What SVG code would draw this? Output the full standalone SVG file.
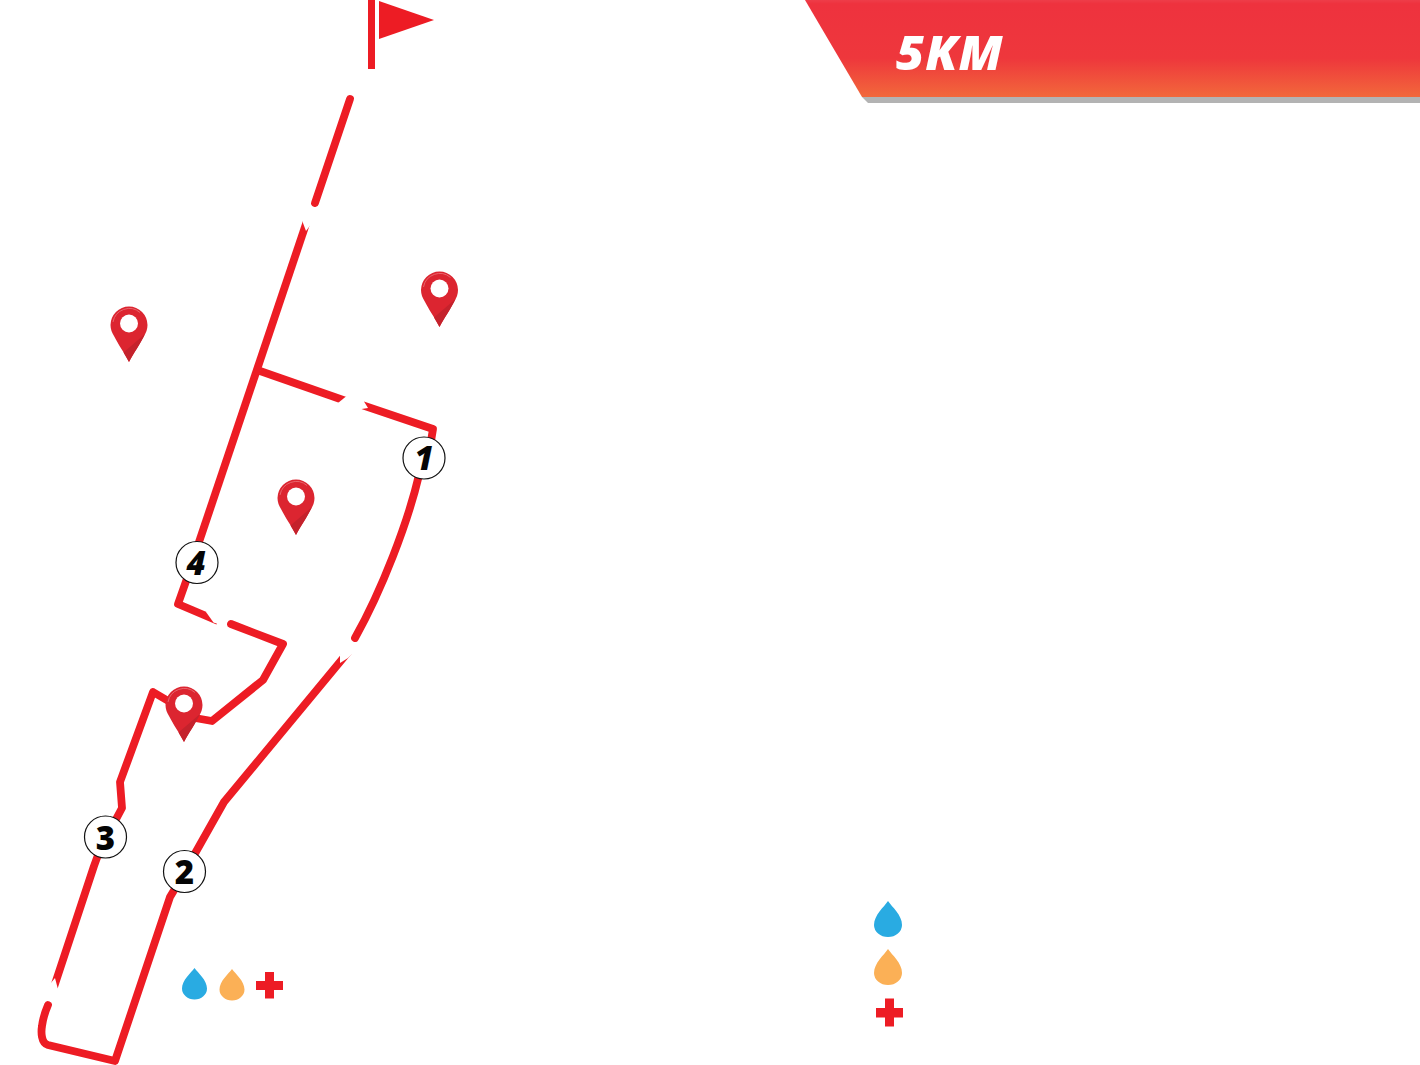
<svg xmlns="http://www.w3.org/2000/svg" width="1420" height="1065" viewBox="0 0 1420 1065">
<style>
.r{fill:none;stroke:#ed1c24;stroke-width:7.800;stroke-linejoin:round;stroke-linecap:round}
.b{stroke-linecap:butt}
.n{fill:#fff}
.c{fill:#fff;stroke:#111;stroke-width:1.200}
.t{font-family:"Open Sans","Liberation Sans",sans-serif;font-weight:800;font-style:italic;font-size:33px;fill:#050505;text-anchor:middle}
</style>
<defs>
<linearGradient id="bg" x1="0" y1="0" x2="0" y2="1"><stop offset="0" stop-color="#ee3d49"/><stop offset="0.04" stop-color="#ee323e"/><stop offset="0.6" stop-color="#ee373c"/><stop offset="1" stop-color="#f2683b"/></linearGradient>
<symbol id="pin" overflow="visible">
<path d="M0 37C-4 29-11 19-15 11C-17 8-18.500 4-18.500 0A18.500 18.500 0 0 1 18.500 0C18.500 4 17 8 15 11C11 19 4 29 0 37Z" fill="#dc2530"/>
<path d="M0 37C-2 33-4 30-5.500 27.500L16 9C12 18 4 29 0 37Z" fill="#c4222c"/>
<path d="M-16 -3A16.500 16.500 0 0 1 11 -12.500" fill="none" stroke="#e8646b" stroke-width="1"/>
<circle r="9" cy="-1.500" fill="#fff"/>
</symbol>
<path id="drop" d="M0 0C4 6 14 14 14 24A14 12 0 0 1-14 24C-14 14-4 6 0 0Z"/>
<path id="drops" d="M0 0C3.500 5 12.500 12 12.500 20.500A12.500 11 0 0 1-12.500 20.500C-12.500 12-3.500 5 0 0Z"/>
</defs>
<g id="banner">
<polygon points="862,97 1420,97 1420,103 868,103" fill="#b3b3b3"/>
<polygon points="805,0 1420,0 1420,97 862,97" fill="url(#bg)"/>
<text x="896" y="70" font-family="'Open Sans','Liberation Sans',sans-serif" font-weight="800" font-style="italic" font-size="48.500" letter-spacing="1" fill="#fff">5KM</text>
</g>
<g id="flag">
<rect x="368" y="0" width="7" height="69" fill="#ed1c24"/>
<polygon points="379,1 434,20 379,39" fill="#ed1c24"/>
</g>
<g id="connectors">
<path class="r" d="M350 99L315 203"/>
<path class="r b" d="M309 215L198 545"/>
<path class="r b" d="M190 570L178 604L218 621"/>
<path class="r b" d="M260 371L346 401"/>
<path class="r b" d="M356 403L433 429L431 441"/>
<path class="r" d="M419 475C408 522 382 590 355 638"/>
<path class="r b" d="M349 651L224 802L193 857"/>
<path class="r" d="M176 887L170 897L115 1061L48 1045C41 1043 41 1032 42 1026C43 1018 45 1012 48 1005"/>
<path class="r b" d="M53 990L94 866L98 855"/>
<path class="r" d="M114 823L122 808L120 782L153 692L170 702"/>
<path class="r" d="M195 718L212 721L263 680L283 644L231 624"/>
<polygon class="n" points="303,223 306,231 312,223 316,213 300,211"/>
<polygon class="n" points="338,403 346,396.500 352,396 352,410 338,410"/>
<polygon class="n" points="364,401.500 368,408 358.500,409.500 352,412 352,396 364,396"/>
<polygon class="n" points="212,611 206,612 213.500,622.500 221,625 222,610"/>
<polygon class="n" points="340,655 340,663 348,658 355,651 345,646"/>
<polygon class="n" points="50,984 55,978 57.500,987.500 60,994 47,994"/>
</g>
<g id="pin-a"><use href="#pin" x="439.500" y="290"/></g>
<g id="pin-b"><use href="#pin" x="129" y="325"/></g>
<g id="pin-c"><use href="#pin" x="296" y="498"/></g>
<g id="pin-d"><use href="#pin" x="184" y="705"/></g>
<g id="km-1"><circle class="c" cx="424" cy="458" r="21"/><text class="t" x="424" y="470">1</text></g>
<g id="km-2"><circle class="c" cx="184.500" cy="871.500" r="21"/><text class="t" x="184.500" y="884" style="font-style:normal">2</text></g>
<g id="km-3"><circle class="c" cx="105.500" cy="837" r="21"/><text class="t" x="105.500" y="849.500" style="font-style:normal">3</text></g>
<g id="km-4"><circle class="c" cx="197" cy="562.500" r="21"/><text class="t" x="196" y="575">4</text></g>
<g id="legend-small">
<use href="#drops" x="194.500" y="968" fill="#29abe2"/>
<use href="#drops" x="232" y="969" fill="#fbb056"/>
<path d="M265 972h9v9h9v9h-9v8.500h-9v-8.500h-9v-9h9z" fill="#ed1c24"/>
</g>
<g id="legend-large">
<use href="#drop" x="888" y="901" fill="#29abe2"/>
<use href="#drop" x="888" y="949" fill="#fbb056"/>
<path d="M885 998.500h9v9.500h9v9.500h-9v9h-9v-9h-9v-9.500h9z" fill="#ed1c24"/>
</g>
</svg>
